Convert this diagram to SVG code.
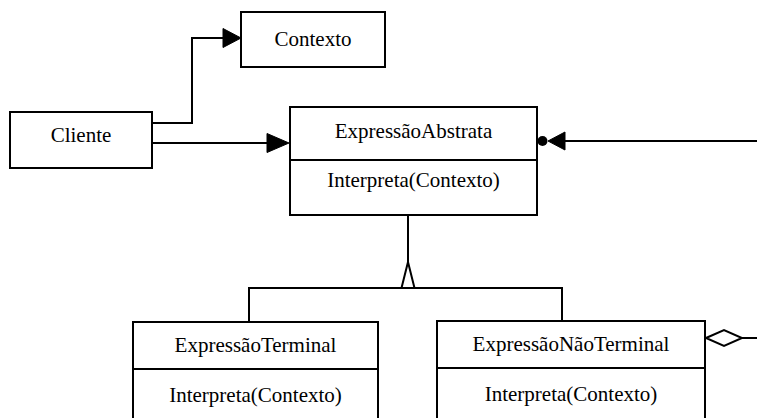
<svg xmlns="http://www.w3.org/2000/svg" width="757" height="418" viewBox="0 0 757 418">
  <style>
    .box { fill: #fff; stroke: #000; stroke-width: 2; }
    .sep { stroke: #000; stroke-width: 2; }
    .label { font-size: 21px; fill: #000; text-anchor: middle; }
    .wire { fill: none; stroke: #000; stroke-width: 2; }
    .head { fill: #000; stroke: #000; stroke-width: 1; }
    .hollow { fill: #fff; stroke: #000; stroke-width: 2; }
  </style>
  <rect width="757" height="418" fill="#fff"/>

  <!-- Connectors -->
  <g id="connectors">
    <!-- Cliente -> Contexto -->
    <polyline class="wire" points="152,123 192,123 192,38 224,38"/>
    <polygon class="head" points="223,28.5 241,38 223,47.5"/>
    <!-- Cliente -> ExpressãoAbstrata -->
    <line class="wire" x1="152" y1="143" x2="268" y2="143"/>
    <polygon class="head" points="267,133.5 289,143 267,152.5"/>
    <!-- composite back-reference into ExpressãoAbstrata -->
    <line class="wire" x1="564" y1="141" x2="757" y2="141"/>
    <polygon class="head" points="565,132 548,141 565,150"/>
    <circle cx="542.5" cy="141" r="5" fill="#000"/>
    <!-- generalization tree -->
    <line class="wire" x1="408" y1="215" x2="408" y2="262"/>
    <polyline class="wire" points="249,322 249,288 562,288 562,322"/>
    <polygon class="hollow" points="408,262 401.5,288 414.5,288"/>
    <!-- aggregation from ExpressãoNãoTerminal -->
    <polygon class="hollow" points="706,338 724,330 742,338 724,346"/>
    <line class="wire" x1="742" y1="338" x2="757" y2="338"/>
  </g>

  <g font-family="Liberation Serif, Times New Roman, serif">
    <g id="contexto">
      <rect class="box" x="241" y="12" width="144" height="55"/>
      <text class="label" x="313" y="46">Contexto</text>
    </g>

    <g id="cliente">
      <rect class="box" x="10" y="112" width="142" height="56"/>
      <text class="label" x="81" y="142">Cliente</text>
    </g>

    <g id="expressao-abstrata">
      <rect class="box" x="290" y="107" width="247" height="108"/>
      <line class="sep" x1="290" y1="160" x2="537" y2="160"/>
      <text class="label" x="413.5" y="138">ExpressãoAbstrata</text>
      <text class="label" x="413.5" y="187">Interpreta(Contexto)</text>
    </g>

    <g id="expressao-terminal">
      <rect class="box" x="133" y="322" width="245" height="110"/>
      <line class="sep" x1="133" y1="369" x2="378" y2="369"/>
      <text class="label" x="255.5" y="352">ExpressãoTerminal</text>
      <text class="label" x="255.5" y="402">Interpreta(Contexto)</text>
    </g>

    <g id="expressao-nao-terminal">
      <rect class="box" x="437" y="321" width="268" height="110"/>
      <line class="sep" x1="437" y1="368" x2="705" y2="368"/>
      <text class="label" x="571" y="351">ExpressãoNãoTerminal</text>
      <text class="label" x="571" y="401">Interpreta(Contexto)</text>
    </g>
  </g>
</svg>
